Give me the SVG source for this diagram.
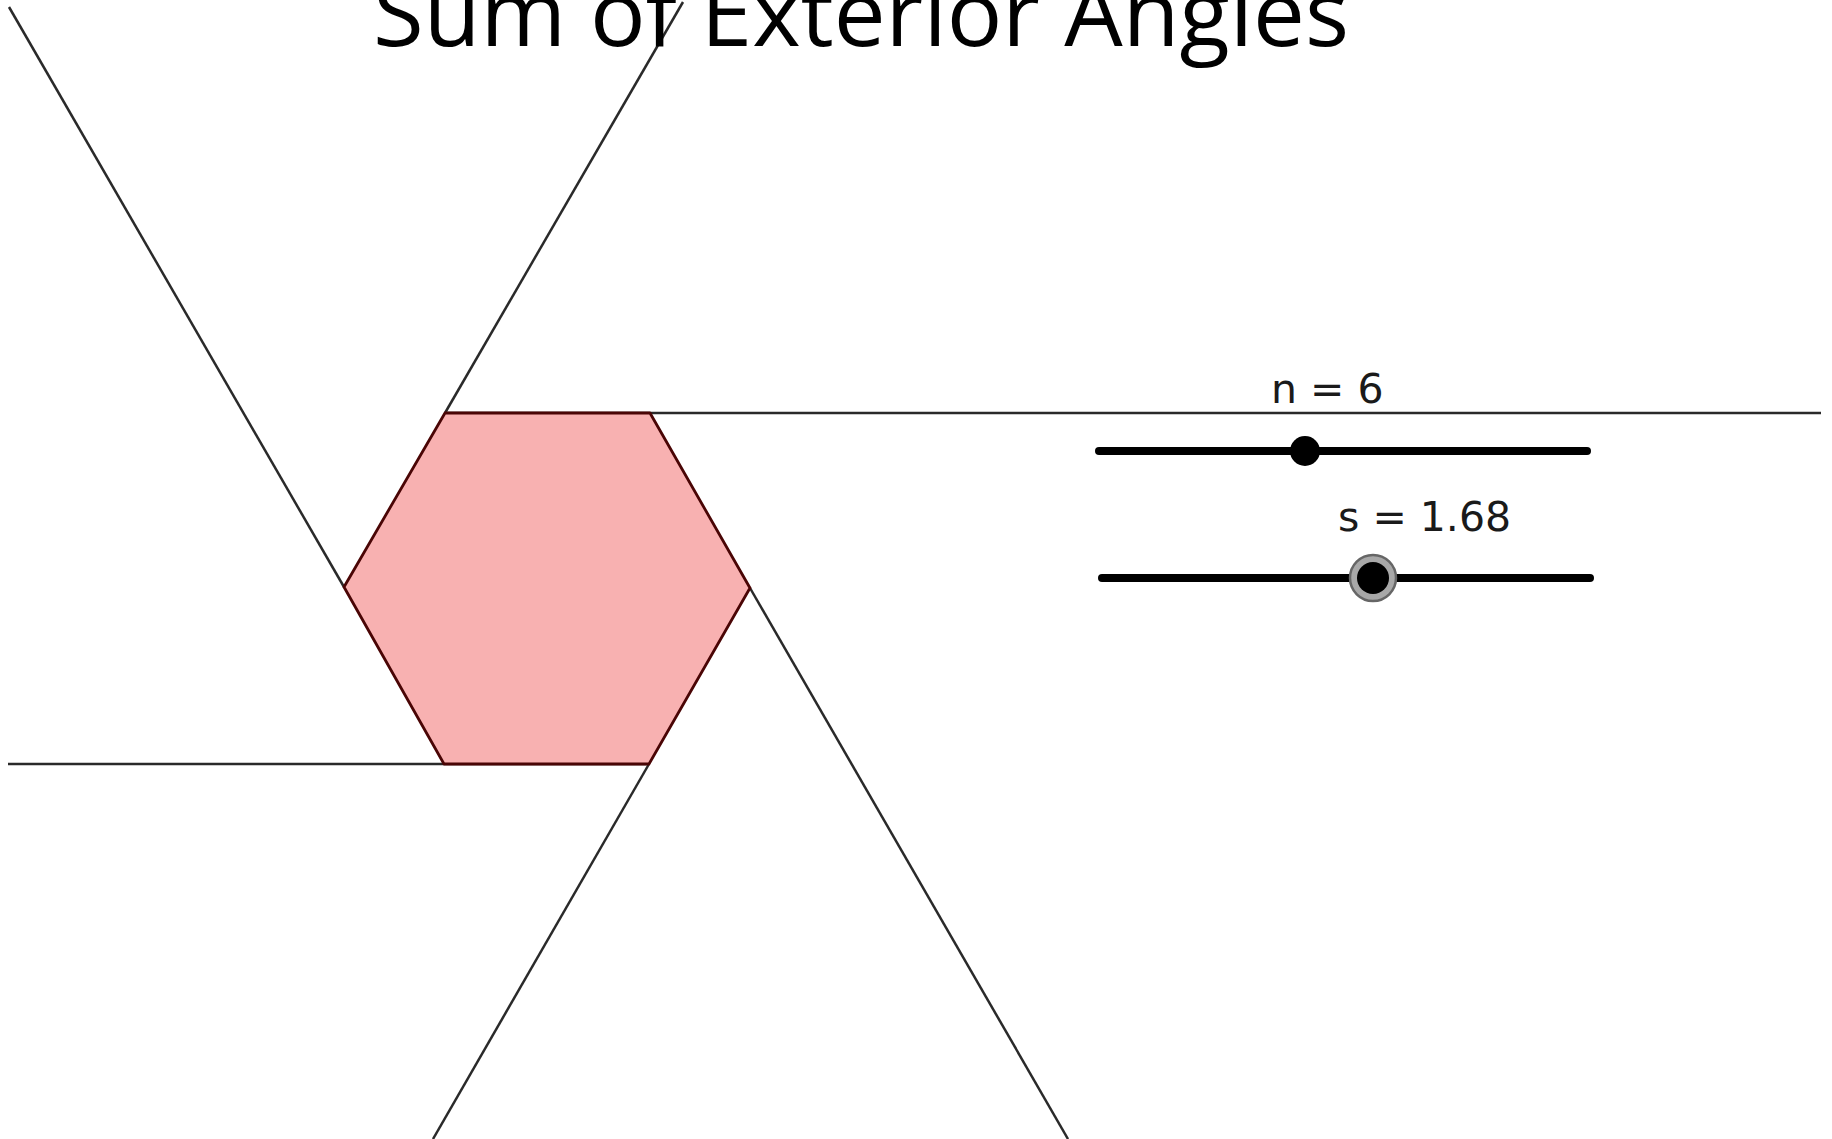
<svg xmlns="http://www.w3.org/2000/svg" width="1832" height="1139" viewBox="0 0 1832 1139">
<style>
.ln{stroke:#2a2a2a;stroke-width:2.5;fill:none}
.hex{fill:#f8b1b1;stroke:#4a0505;stroke-width:2.8;stroke-linejoin:round}
.track{stroke:#000;stroke-width:8;stroke-linecap:round}
.lbl{font-family:"DejaVu Sans",sans-serif;font-size:41px;fill:#1a1a1a}
.title{font-family:"Open Sans",sans-serif;font-size:91px;fill:#000}
</style>
<rect width="1832" height="1139" fill="#fff"/>
<g id="connectors">
<line class="ln" x1="445" y1="413" x2="1821" y2="413"/>
<line class="ln" x1="8" y1="764" x2="649" y2="764"/>
<line class="ln" x1="445" y1="413" x2="683" y2="2"/>
<line class="ln" x1="344" y1="587" x2="9" y2="7"/>
<line class="ln" x1="750" y1="588" x2="1068" y2="1139"/>
<line class="ln" x1="649" y1="764" x2="433" y2="1139"/>
</g>
<g id="hexagon">
<polygon class="hex" points="445,413 650,413 750,588 649,764 444,764 344,587"/>
</g>
<g id="title">
<text class="title" x="373" y="46" textLength="976" lengthAdjust="spacingAndGlyphs">Sum of Exterior Angles</text>
</g>
<g id="slider-n">
<text class="lbl" x="1271" y="403">n = 6</text>
<line class="track" x1="1099" y1="451" x2="1587" y2="451"/>
<circle cx="1305" cy="451" r="15" fill="#000"/>
</g>
<g id="slider-s">
<text class="lbl" x="1338" y="531">s = 1.68</text>
<line class="track" x1="1102" y1="578" x2="1590" y2="578"/>
<circle cx="1373" cy="578" r="23" fill="#a8a8a8" stroke="#666" stroke-width="2.5"/>
<circle cx="1373" cy="578" r="16" fill="#000"/>
</g>
</svg>
